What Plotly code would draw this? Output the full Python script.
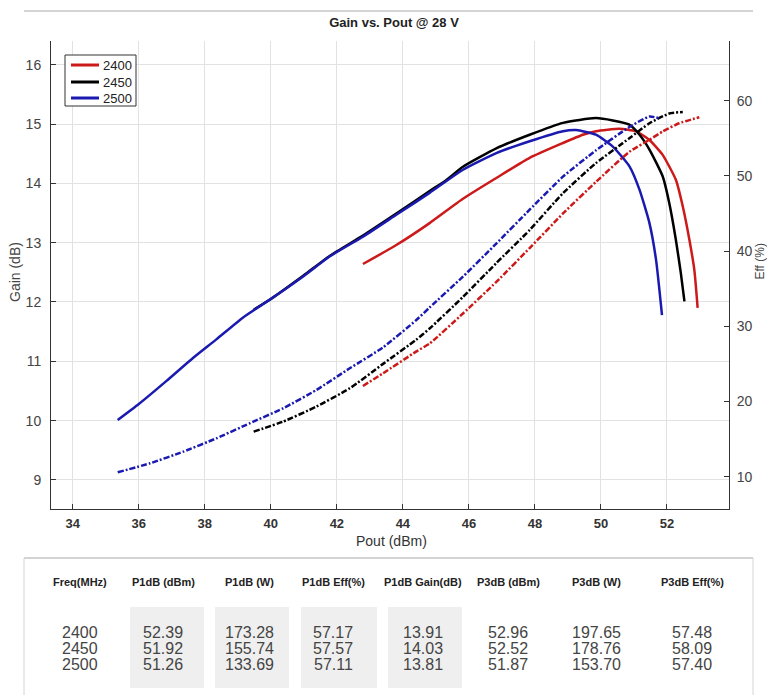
import plotly.graph_objects as go

# ---------------- data ----------------
series_names = ["2400", "2450", "2500"]
series_colors = ["#cc1a1a", "#000000", "#1a1ab0"]

pout_gain_2400 = [42.79, 43.8, 44.81, 45.82, 46.83, 47.84, 48.85, 49.45, 49.85, 50.56, 51.06, 51.47, 51.87, 52.27, 52.48, 52.68, 52.83, 52.93]
gain_2400 = [12.64, 12.96, 13.33, 13.74, 14.09, 14.43, 14.68, 14.82, 14.88, 14.92, 14.88, 14.73, 14.48, 14.06, 13.61, 13.05, 12.54, 11.90]

pout_gain_2450 = [39.48, 40.0, 41.0, 41.79, 42.79, 43.8, 44.81, 45.3, 45.82, 46.83, 47.84, 48.85, 49.35, 49.85, 50.36, 50.86, 51.17, 51.47, 51.87, 52.07, 52.27, 52.42, 52.53]
gain_2450 = [11.87, 12.05, 12.45, 12.78, 13.12, 13.49, 13.87, 14.05, 14.28, 14.59, 14.82, 15.02, 15.07, 15.10, 15.06, 14.99, 14.82, 14.57, 14.12, 13.67, 13.05, 12.49, 12.01]

pout_gain_2500 = [35.36, 36.0, 36.84, 37.65, 38.35, 39.16, 39.97, 41.0, 41.79, 42.79, 43.8, 44.81, 45.82, 46.83, 47.84, 48.85, 49.25, 49.85, 50.36, 50.86, 51.17, 51.47, 51.67, 51.85]
gain_2500 = [10.01, 10.28, 10.67, 11.06, 11.37, 11.74, 12.04, 12.44, 12.77, 13.10, 13.47, 13.84, 14.23, 14.51, 14.71, 14.88, 14.90, 14.82, 14.62, 14.29, 13.89, 13.33, 12.71, 11.78]

pout_eff_2400 = [42.79, 43.4, 44.4, 44.81, 45.82, 46.83, 47.84, 48.85, 49.85, 50.86, 51.47, 51.87, 52.37, 52.98]
eff_2400 = [22.06, 23.75, 26.63, 27.7, 31.7, 35.9, 40.4, 45.0, 49.2, 53.2, 54.8, 55.9, 57.0, 57.8]

pout_eff_2450 = [39.48, 40.37, 41.38, 42.39, 43.4, 44.4, 44.81, 45.82, 46.83, 47.84, 48.85, 49.85, 50.86, 51.47, 52.07, 52.48]
eff_2450 = [15.99, 17.32, 19.32, 21.75, 25.0, 28.2, 29.7, 33.9, 38.4, 42.8, 47.7, 51.7, 55.0, 57.0, 58.3, 58.5]

pout_eff_2500 = [35.36, 36.34, 37.35, 38.35, 39.36, 40.37, 41.38, 42.39, 43.4, 44.4, 44.81, 45.82, 46.83, 47.84, 48.85, 49.85, 50.86, 51.47, 51.77]
eff_2500 = [10.58, 11.78, 13.33, 15.10, 17.10, 19.09, 21.53, 24.41, 27.2, 30.8, 32.5, 36.6, 41.0, 45.5, 49.9, 53.4, 56.5, 57.9, 57.65]

x_ticks = [34, 36, 38, 40, 42, 44, 46, 48, 50, 52]
gain_ticks = [9, 10, 11, 12, 13, 14, 15, 16]
eff_ticks = [10, 20, 30, 40, 50, 60]

table_headers = ["Freq(MHz)", "P1dB (dBm)", "P1dB (W)", "P1dB Eff(%)", "P1dB Gain(dB)", "P3dB (dBm)", "P3dB (W)", "P3dB Eff(%)"]
freqs = ["2400", "2450", "2500"]
p1db_dbm = [52.39, 51.92, 51.26]
p1db_w = [173.28, 155.74, 133.69]
p1db_eff = [57.17, 57.57, 57.11]
p1db_gain = [13.91, 14.03, 13.81]
p3db_dbm = [52.96, 52.52, 51.87]
p3db_w = [197.65, 178.76, 153.70]
p3db_eff = [57.48, 58.09, 57.40]

# ---------------- layout geometry ----------------
W, H = 767, 695
L, R, T, B = 51, 729, 41, 509
PW, PH = R - L, B - T
FONT = "Liberation Sans, Arial, sans-serif"
NARROW = "Liberation Sans Narrow, Arial Narrow, Liberation Sans, Arial, sans-serif"


def px(xp):
    return (xp - L) / PW


def py(yp):
    return 1 - (yp - T) / PH


fig = go.Figure()

gain_sets = [(pout_gain_2400, gain_2400), (pout_gain_2450, gain_2450), (pout_gain_2500, gain_2500)]
eff_sets = [(pout_eff_2400, eff_2400), (pout_eff_2450, eff_2450), (pout_eff_2500, eff_2500)]

for (xs, ys), name, col in zip(eff_sets, series_names, series_colors):
    fig.add_trace(go.Scatter(x=xs, y=ys, mode="lines", yaxis="y2", showlegend=False,
                             line=dict(color=col, width=2.5, dash="6px,2px,2px,2px", shape="spline", smoothing=0.5),
                             name=name + " Eff"))
for (xs, ys), name, col in zip(gain_sets, series_names, series_colors):
    fig.add_trace(go.Scatter(x=xs, y=ys, mode="lines", name=name, showlegend=False,
                             line=dict(color=col, width=2.5, shape="spline", smoothing=0.5)))

axis_common = dict(ticks="inside", ticklen=5, tickcolor="#333", showline=True, linecolor="#333",
                   linewidth=1, zeroline=False)

fig.update_layout(
    width=W, height=H,
    margin=dict(l=L, r=W - R, t=T, b=H - B),
    paper_bgcolor="white", plot_bgcolor="white",
    font=dict(family=FONT, color="#333"),
    showlegend=False,
    title=dict(text="<b>Gain vs. Pout @ 28 V</b>", x=394 / W, xref="container", xanchor="center",
               y=1 - 22 / H, yref="container", yanchor="middle", font=dict(size=13, color="#222")),
    xaxis=dict(range=[33.34, 53.88], tickvals=x_ticks, showgrid=True, gridcolor="#e2e2e2",
               tickfont=dict(size=13, color="#333", weight="bold"), ticklabelstandoff=2, **axis_common),
    yaxis=dict(range=[8.51, 16.40], tickvals=gain_ticks, showgrid=True, gridcolor="#e2e2e2",
               tickfont=dict(size=14, color="#444"), ticklabelstandoff=6, **axis_common),
    yaxis2=dict(range=[5.70, 67.94], tickvals=eff_ticks, overlaying="y", side="right", showgrid=False,
                tickfont=dict(size=14, color="#444"), ticklabelstandoff=4, **axis_common),
)

annotations = [
    dict(text="Gain (dB)", x=px(15), y=py(272), textangle=-90, font=dict(size=14, color="#444")),
    dict(text="Eff (%)", x=px(759.5), y=py(262), textangle=-90, font=dict(size=12, color="#444")),
    dict(text="Pout (dBm)", x=px(391), y=py(541), font=dict(size=14, color="#333")),
]

# legend (drawn by hand to match the tight entry spacing)
legend_rows = [65, 82, 98]
for ry, name in zip(legend_rows, series_names):
    annotations.append(dict(text=name, x=px(101), y=py(ry), xanchor="left", font=dict(size=13, color="#222")))

# table
col_centers = [80, 163, 249, 333, 423, 508, 596, 692]
header_y = 582
row_ys = [632, 648, 664]
cols = [freqs,
        ["%.2f" % v for v in p1db_dbm], ["%.2f" % v for v in p1db_w], ["%.2f" % v for v in p1db_eff],
        ["%.2f" % v for v in p1db_gain], ["%.2f" % v for v in p3db_dbm], ["%.2f" % v for v in p3db_w],
        ["%.2f" % v for v in p3db_eff]]
for cx, hdr, vals in zip(col_centers, table_headers, cols):
    annotations.append(dict(text="<b>" + hdr + "</b>", x=px(cx), y=py(header_y),
                            font=dict(size=11, family=NARROW, color="#222")))
    for ry, v in zip(row_ys, vals):
        annotations.append(dict(text=v, x=px(cx), y=py(ry), font=dict(size=16, color="#444")))

for a in annotations:
    a.setdefault("xanchor", "center")
    a.update(xref="paper", yref="paper", showarrow=False, yanchor="middle")
fig.update_layout(annotations=annotations)

shapes = [
    dict(type="line", x0=px(24), x1=px(753), y0=py(11), y1=py(11), line=dict(color="#d4d4d4", width=2)),
    dict(type="line", x0=px(24), x1=px(753), y0=py(558), y1=py(558), line=dict(color="#d4d4d4", width=2)),
    dict(type="line", x0=px(24), x1=px(24), y0=py(558), y1=py(695), line=dict(color="#d4d4d4", width=1)),
    dict(type="line", x0=px(753), x1=px(753), y0=py(558), y1=py(695), line=dict(color="#d4d4d4", width=1)),
]
for bx0, bx1 in [(130, 204), (215, 289), (301, 377), (388, 462)]:
    shapes.append(dict(type="rect", x0=px(bx0), x1=px(bx1), y0=py(607), y1=py(688),
                       fillcolor="#efefef", line=dict(width=0), layer="below"))
# legend box and line samples
shapes.append(dict(type="rect", x0=px(65), x1=px(136), y0=py(55), y1=py(106),
                   fillcolor="white", line=dict(color="#333", width=1)))
for ry, col in zip(legend_rows, series_colors):
    shapes.append(dict(type="line", x0=px(71), x1=px(99), y0=py(ry), y1=py(ry), line=dict(color=col, width=3)))
for s in shapes:
    s.update(xref="paper", yref="paper")
fig.update_layout(shapes=shapes)

fig.write_html("out.html", config={"displayModeBar": False},
               post_script="document.body.style.margin='0';document.body.style.overflow='hidden';")
